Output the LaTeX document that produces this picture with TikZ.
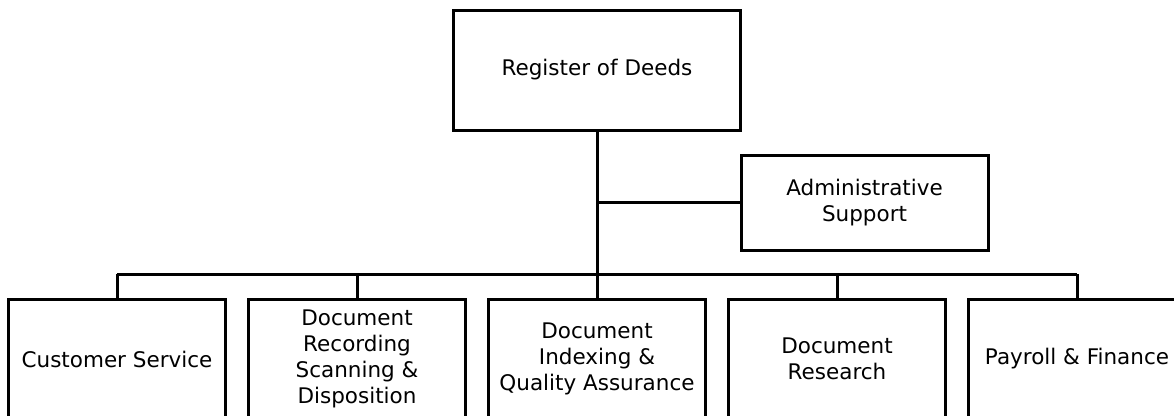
\documentclass[tikz,border=0pt]{standalone}
\usepackage{fontspec}
\setmainfont{DejaVu Sans}
\begin{document}
\begin{tikzpicture}[x=1pt,y=-1pt,
  orgbox/.style={draw=black,line width=3pt,fill=white,align=center,inner sep=0pt,
    font=\fontsize{21.5}{25.8}\selectfont},
  link/.style={draw=black,line width=3pt}]
\useasboundingbox (0,0) rectangle (1174,415);
\clip (0,0) rectangle (1174,415);
\node[orgbox,minimum width=287pt,minimum height=120pt] (rod) at (597,70) {Register of Deeds};
\node[orgbox,minimum width=247pt,minimum height=95pt] (adm) at (864.5,202.5) {Administrative\\Support};
\foreach \n/\x/\t in {cs/117/{Customer Service},
  rec/357/{Document\\Recording\\Scanning \&\\Disposition},
  idx/597/{Document\\Indexing \&\\Quality Assurance},
  res/837/{Document\\Research},
  pay/1077/{Payroll \& Finance}}{
  \node[orgbox,minimum width=217pt,minimum height=120pt] (\n) at (\x,359) {\t};
}
\coordinate (busL) at (117,274);
\coordinate (busR) at (1077,274);
\draw[link] (rod.south) -- (idx.north);
\draw[link] (rod.south |- adm.west) -- (adm.west);
\draw[link] (cs.north |- busL) -- (pay.north |- busR);
\foreach \n in {cs,rec,res,pay}{
  \draw[link] (\n.north) -- (\n.north |- busL);
}
\end{tikzpicture}
\end{document}
